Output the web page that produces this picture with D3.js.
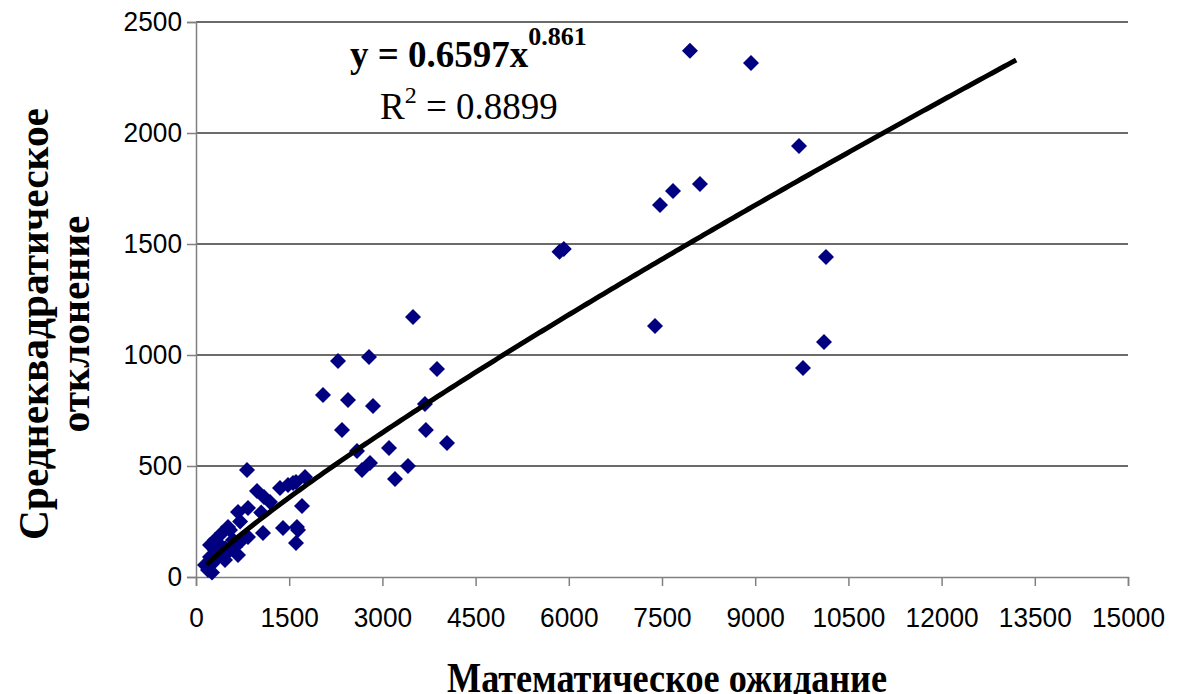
<!DOCTYPE html>
<html>
<head>
<meta charset="utf-8">
<script src="https://cdn.jsdelivr.net/npm/d3@7"></script>
<style>
  html, body { margin: 0; padding: 0; background: #fff; }
  svg { display: block; }
</style>
</head>
<body>
<svg id="chart" width="1178" height="694"></svg>
<script>
// Data
const meanValues = [
  7950, 8932, 9705, 8111, 7677, 7468, 10139, 5850, 5920, 7387, 10107, 9769,
  3492, 2784, 2285, 3879, 2044, 2446, 2849, 3685, 2350, 3700, 4040, 3106, 2591,
  2800, 2672, 3412, 3203, 1625, 1754, 1561,
  821, 1706, 982, 1094, 1191, 1352, 1481, 1609, 676, 837, 515, 418, 1078, 1400,
  1642, 1609, 740, 837, 628, 515, 306, 225, 145, 193, 306, 467, 676, 595, 306,
  386, 547, 225, 258, 370, 260, 470, 710, 1050
];
const sdValues = [
  2370, 2315, 1942, 1770, 1739, 1676, 1442, 1465, 1478, 1131, 1059, 942,
  1171, 991, 973, 937, 820, 797, 770, 779, 662, 662, 604, 581, 568,
  514, 482, 500, 441, 225, 450, 423,
  482, 320, 387, 360, 338, 401, 414, 428, 293, 311, 225, 198, 198, 221,
  212, 153, 167, 180, 135, 113, 122, 90, 54, 32, 77, 77, 99, 167, 167,
  144, 212, 144, 20, 104, 60, 130, 250, 290
];
const xTicks = [0, 1500, 3000, 4500, 6000, 7500, 9000, 10500, 12000, 13500, 15000];
const yTicks = [0, 500, 1000, 1500, 2000, 2500];
const trendCoef = 0.6597;
const trendExp = 0.861;
const trendRange = [170, 13200];
const xTitle = "Математическое ожидание";
const yTitleLines = ["Среднеквадратическое", "отклонение"];

const svg = d3.select("#chart");
const mLeft = 196, mRight = 1128, mTop = 22, mBottom = 577;

const x = d3.scaleLinear().domain([0, 15000]).range([mLeft, mRight]);
const y = d3.scaleLinear().domain([0, 2500]).range([mBottom, mTop]);

// gridlines
svg.append("g").selectAll("line").data(yTicks.filter(d => d > 0)).join("line")
  .attr("x1", mLeft).attr("x2", mRight)
  .attr("y1", d => y(d)).attr("y2", d => y(d))
  .attr("stroke", "#3a3a3a").attr("stroke-width", 1.5);

// axes
const xAxis = svg.append("g").attr("transform", `translate(0,${mBottom})`)
  .call(d3.axisBottom(x).tickValues(xTicks).tickSize(9).tickPadding(22).tickFormat(d3.format("d")));
const yAxis = svg.append("g").attr("transform", `translate(${mLeft},0)`)
  .call(d3.axisLeft(y).tickValues(yTicks).tickSize(9).tickPadding(5).tickFormat(d3.format("d")));
[xAxis, yAxis].forEach(g => {
  g.select(".domain").attr("stroke", "#808080").attr("stroke-width", 1.5);
  g.selectAll(".tick line").attr("stroke", "#808080").attr("stroke-width", 1.5);
  g.selectAll(".tick text").attr("font-family", "'Liberation Sans', Arial, sans-serif")
    .attr("font-size", 27).attr("fill", "#000")
    .attr("textLength", function () { return this.textContent.length * 14.6; })
    .attr("lengthAdjust", "spacingAndGlyphs");
});

// points
const pts = meanValues.map((v, i) => [v, sdValues[i]]);
const s = 8;
svg.append("g").selectAll("path").data(pts).join("path")
  .attr("d", d => {
    const cx = x(d[0]), cy = y(d[1]);
    return `M${cx},${cy - s}L${cx + s},${cy}L${cx},${cy + s}L${cx - s},${cy}Z`;
  })
  .attr("fill", "#000080");

// trend line
const trendXs = d3.range(0, 201).map(i => trendRange[0] + (trendRange[1] - trendRange[0]) * i / 200);
const line = d3.line().x(d => x(d)).y(d => y(trendCoef * Math.pow(d, trendExp)));
svg.append("path").datum(trendXs).attr("d", line)
  .attr("fill", "none").attr("stroke", "#000").attr("stroke-width", 5);

// equation
const serif = "'Liberation Serif', 'Times New Roman', serif";
const eq = svg.append("text").attr("x", 350).attr("y", 67)
  .attr("font-family", serif).attr("font-size", 37).attr("font-weight", "bold");
eq.append("tspan").text("y = 0.6597x");
eq.append("tspan").attr("dy", -22).attr("font-size", 26).text("0.861");

const r2 = svg.append("text").attr("x", 380).attr("y", 119)
  .attr("font-family", serif).attr("font-size", 37);
r2.append("tspan").text("R");
r2.append("tspan").attr("dy", -16).attr("font-size", 24).text("2");
r2.append("tspan").attr("dy", 16).text(" = 0.8899");

// axis titles
svg.append("text").attr("x", 667).attr("y", 692)
  .attr("text-anchor", "middle").attr("font-family", serif)
  .attr("font-size", 42).attr("font-weight", "bold")
  .attr("textLength", 440).attr("lengthAdjust", "spacingAndGlyphs").text(xTitle);

const yTitleLens = [432, 217];
const yTitleX = [48, 89];
yTitleLines.forEach((t, i) => {
  svg.append("text")
    .attr("transform", `translate(${yTitleX[i]},324) rotate(-90)`)
    .attr("text-anchor", "middle").attr("font-family", serif)
    .attr("font-size", 43).attr("font-weight", "bold")
    .attr("textLength", yTitleLens[i]).attr("lengthAdjust", "spacingAndGlyphs").text(t);
});
</script>
</body>
</html>
